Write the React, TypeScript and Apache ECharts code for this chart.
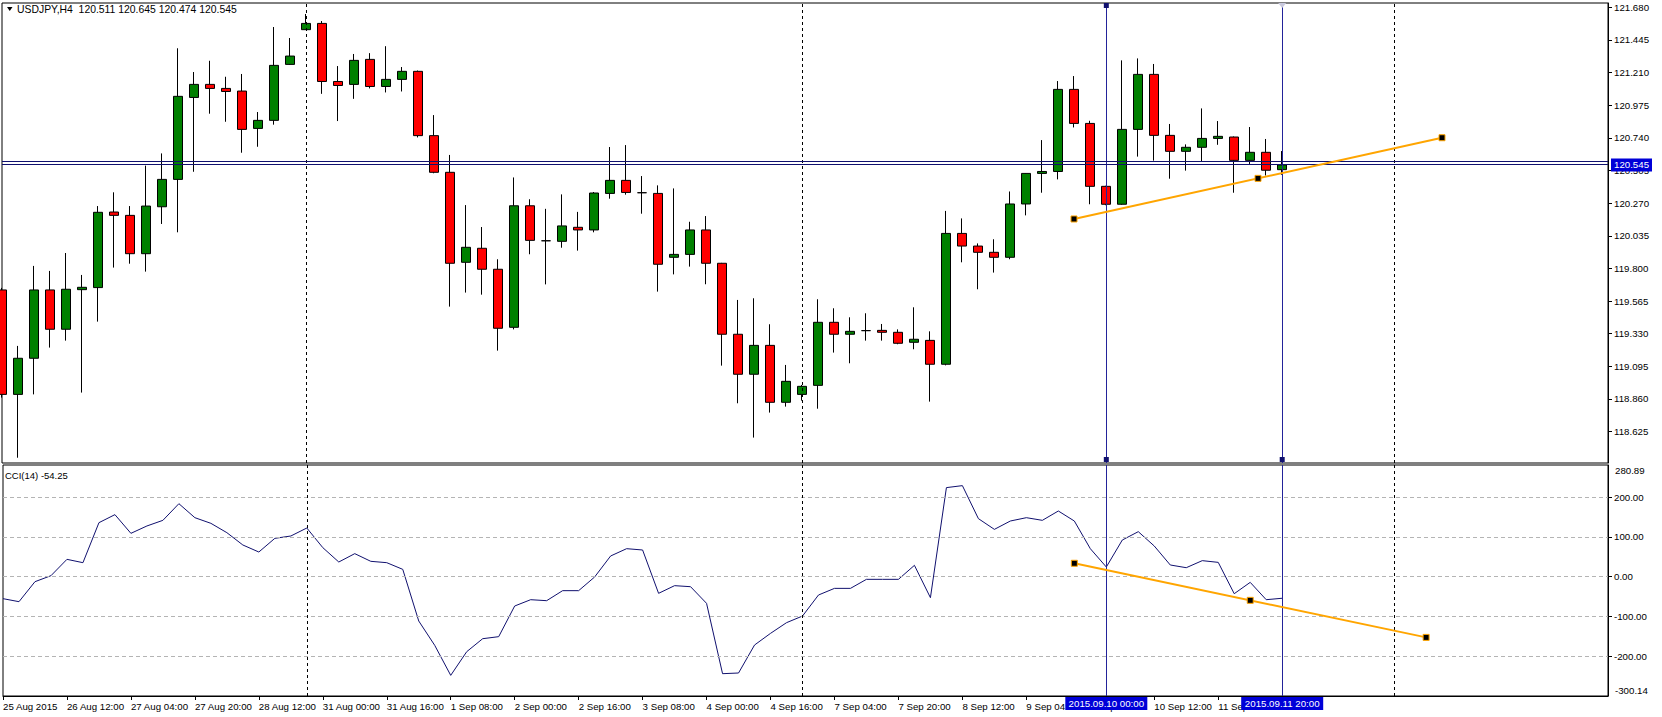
import React, { useEffect, useRef } from 'react';
import * as echarts from 'echarts';

const SYMBOL = 'USDJPY,H4';
const CCI_NAME = 'CCI(14)';

// bar time labels, one every 4 bars (H4)
const timeLabels = [
  '25 Aug 2015', '26 Aug 12:00', '27 Aug 04:00', '27 Aug 20:00', '28 Aug 12:00',
  '31 Aug 00:00', '31 Aug 16:00', '1 Sep 08:00', '2 Sep 00:00', '2 Sep 16:00',
  '3 Sep 08:00', '4 Sep 00:00', '4 Sep 16:00', '7 Sep 04:00', '7 Sep 20:00',
  '8 Sep 12:00', '9 Sep 04:00', '9 Sep 20:00', '10 Sep 12:00', '11 Sep 04:00', '11 Sep 20:00',
];

const opens = [
  119.645, 118.893, 119.153, 119.645, 119.362, 119.647, 119.662, 120.206, 120.182, 119.906,
  120.244, 120.441, 121.031, 121.125, 121.096, 121.077, 120.808, 120.866, 121.269, 121.519,
  121.564, 121.146, 121.125, 121.305, 121.110, 121.161, 121.219, 120.756, 120.492, 119.844,
  119.945, 119.794, 119.376, 120.251, 119.999, 119.995, 120.096, 120.077, 120.340, 120.434,
  120.345, 120.340, 119.880, 119.901, 120.077, 119.837, 119.326, 119.038, 119.246, 118.836,
  118.893, 118.958, 119.412, 119.326, 119.352, 119.354, 119.340, 119.268, 119.282, 119.110,
  120.052, 119.961, 119.916, 119.880, 120.264, 120.484, 120.498, 121.089, 120.844, 120.391,
  120.262, 120.801, 121.197, 120.758, 120.643, 120.672, 120.736, 120.746, 120.578, 120.636,
  120.511,
];
const closes = [
  118.893, 119.153, 119.645, 119.362, 119.650, 119.664, 120.204, 120.182, 119.906, 120.249,
  120.441, 121.039, 121.125, 121.096, 121.074, 120.801, 120.866, 121.262, 121.329, 121.564,
  121.146, 121.117, 121.298, 121.110, 121.161, 121.219, 120.756, 120.492, 119.837, 119.952,
  119.794, 119.369, 120.251, 120.002, 119.999, 120.106, 120.077, 120.343, 120.434, 120.347,
  120.345, 119.830, 119.901, 120.077, 119.837, 119.326, 119.038, 119.246, 118.836, 118.987,
  118.951, 119.412, 119.326, 119.347, 119.352, 119.340, 119.261, 119.290, 119.110, 120.052,
  119.961, 119.916, 119.880, 120.264, 120.484, 120.498, 121.089, 120.844, 120.391, 120.262,
  120.801, 121.197, 120.758, 120.643, 120.672, 120.736, 120.751, 120.578, 120.636, 120.507,
  120.545,
];
const lows = [
  118.870, 118.437, 118.893, 119.230, 119.280, 118.906, 119.417, 119.806, 119.834, 119.777,
  120.120, 120.060, 120.496, 120.914, 120.856, 120.633, 120.676, 120.835, 121.266, 121.519,
  121.057, 120.861, 121.021, 121.096, 121.067, 121.074, 120.743, 120.485, 119.525, 119.626,
  119.611, 119.208, 119.361, 119.902, 119.685, 119.949, 119.928, 120.060, 120.302, 120.331,
  120.194, 119.633, 119.757, 119.813, 119.686, 119.100, 118.829, 118.582, 118.762, 118.805,
  118.848, 118.790, 119.194, 119.117, 119.280, 119.280, 119.254, 119.218, 118.841, 119.102,
  119.844, 119.650, 119.770, 119.866, 120.182, 120.345, 120.441, 120.815, 120.262, 120.255,
  120.258, 120.605, 120.576, 120.446, 120.504, 120.569, 120.690, 120.345, 120.552, 120.469,
  120.474,
];
const highs = [
  119.660, 119.242, 119.818, 119.782, 119.911, 119.753, 120.249, 120.348, 120.249, 120.540,
  120.628, 121.385, 121.214, 121.295, 121.180, 121.200, 120.926, 121.538, 121.459, 121.632,
  121.581, 121.257, 121.344, 121.350, 121.400, 121.250, 121.225, 120.904, 120.617, 120.256,
  120.098, 119.866, 120.455, 120.298, 120.229, 120.333, 120.207, 120.350, 120.674, 120.688,
  120.465, 120.398, 120.376, 120.136, 120.177, 119.840, 119.573, 119.585, 119.398, 119.105,
  118.961, 119.578, 119.513, 119.448, 119.477, 119.400, 119.361, 119.520, 119.347, 120.214,
  120.160, 119.980, 120.010, 120.354, 120.486, 120.724, 121.149, 121.185, 120.863, 120.395,
  121.298, 121.312, 121.272, 120.840, 120.693, 120.952, 120.861, 120.750, 120.818, 120.732,
  120.645,
];

const cciValues = [
  -55.3, -62.9, -12.6, 2.5, 43.6, 35.2, 135.8, 156, 109, 127.5,
  141.7, 183.6, 148.4, 134.2, 110.7, 79.7, 62, 96.4, 102.3, 122.4,
  73, 36.9, 57.9, 38.6, 35.2, 18.4, -111.5, -172.7, -248.2, -188.7,
  -156, -150.9, -73.8, -57.9, -60.4, -35.2, -35.2, -0.8, 52, 70.4,
  67.1, -41.9, -22.6, -25.2, -67.1, -244, -242.3, -171.9, -142.6, -115.7,
  -99, -46.1, -29.4, -29.4, -6.7, -6.7, -6.7, 28.5, -52.8, 224,
  229, 146, 119, 140, 148.4, 141.7, 165.2, 140, 70.4, 24.3,
  92.2, 113.2, 77.1, 29.4, 22.6, 40.3, 36, -42.8, -14.3, -57.9,
  -54.25,
];

const priceTicks = [118.625, 118.86, 119.095, 119.33, 119.565, 119.8, 120.035, 120.27, 120.505, 120.74, 120.975, 121.21, 121.445, 121.68];
const priceRange = [118.399, 121.711];
const cciTicks = [-200, -100, 0, 100, 200];
const cciRange = [-300.14, 280.89];
const xRange = [0, 100.375];
const bidAskLines = [120.545, 120.567];
const weekSeparators = [19, 50, 87];
const verticalLines = [69, 80];
const verticalLineLabels = ['2015.09.10 00:00', '2015.09.11 20:00'];
const priceTrend = [[67, 120.156], [90, 120.741]];
const cciTrend = [[67, 33.7], [89, -152.7]];

const FONT = '"Liberation Sans", Arial, sans-serif';
const BLUE_LINE = '#23239a';
const NAVY = '#10106e';
const ORANGE = '#FFA500';
const BOX_BLUE = '#0000d8';
const AXIS_FS = 9.7;

const midpoint = (t: number[][]) => [(t[0][0] + t[1][0]) / 2, (t[0][1] + t[1][1]) / 2];

export default function App() {
  const ref = useRef<HTMLDivElement>(null);

  useEffect(() => {
    if (!ref.current) return;
    const chart = echarts.init(ref.current, undefined, { renderer: 'svg' });

    const candleRows = opens.map((o, i) => [i, o, closes[i], lows[i], highs[i]]);
    const cciRows = cciValues.map((v, i) => [i, v]);
    const tickIdx = timeLabels.map((_, k) => k * 4);
    const labelFor = (v: number) => {
      const k = Math.round(v / 4);
      if (Math.abs(v - k * 4) > 1e-6) return '';
      return timeLabels[k] ?? '';
    };

    const sepLine = (x: number) => ({
      xAxis: x,
      lineStyle: { color: '#000', type: [3, 3], width: 1 },
    });
    const vLine = (x: number) => ({
      xAxis: x,
      lineStyle: { color: BLUE_LINE, type: 'solid', width: 1 },
    });

    const option: any = {
      animation: false,
      backgroundColor: '#ffffff',
      textStyle: { fontFamily: FONT },
      grid: [
        { left: 2, top: 3, width: 1606, height: 460, show: true, borderColor: '#000', borderWidth: 1 },
        { left: 2, top: 465, width: 1606, height: 231, show: true, borderColor: '#000', borderWidth: 1 },
      ],
      xAxis: [
        { type: 'value', gridIndex: 0, min: xRange[0], max: xRange[1], show: false, axisLine: { onZero: false } },
        {
          type: 'value', gridIndex: 1, min: xRange[0], max: xRange[1], interval: 4, position: 'bottom',
          axisLine: { show: true, onZero: false, lineStyle: { color: '#000', width: 1 } },
          axisTick: { show: true, length: 4, customValues: tickIdx, lineStyle: { color: '#000' } },
          axisLabel: {
            customValues: tickIdx, formatter: (v: number) => labelFor(v), align: 'left',
            margin: 5, fontSize: AXIS_FS, color: '#000', fontFamily: FONT, showMaxLabel: false,
          },
          splitLine: { show: false },
        },
      ],
      yAxis: [
        {
          type: 'value', gridIndex: 0, position: 'right', min: priceRange[0], max: priceRange[1],
          axisLine: { show: true, onZero: false, lineStyle: { color: '#000' } },
          axisTick: { show: true, length: 4, customValues: priceTicks, lineStyle: { color: '#000' } },
          axisLabel: {
            customValues: priceTicks, formatter: (v: number) => v.toFixed(3),
            margin: 6, fontSize: AXIS_FS, color: '#000', fontFamily: FONT,
          },
          splitLine: { show: false },
        },
        {
          type: 'value', gridIndex: 1, position: 'right', min: cciRange[0], max: cciRange[1],
          axisLine: { show: true, onZero: false, lineStyle: { color: '#000' } },
          axisTick: { show: true, length: 4, customValues: cciTicks, lineStyle: { color: '#000' } },
          axisLabel: {
            customValues: cciTicks, formatter: (v: number) => v.toFixed(2),
            margin: 6, fontSize: AXIS_FS, color: '#000', fontFamily: FONT,
          },
          splitLine: { show: false },
        },
      ],
      series: [
        {
          type: 'candlestick',
          name: SYMBOL,
          xAxisIndex: 0,
          yAxisIndex: 0,
          data: candleRows,
          barWidth: 9,
          clip: true,
          itemStyle: {
            color: '#008000', color0: '#ff0000',
            borderColor: '#000', borderColor0: '#000', borderColorDoji: '#000', borderWidth: 1,
          },
          markLine: {
            silent: true, symbol: ['none', 'none'], label: { show: false },
            data: [
              ...weekSeparators.map(sepLine),
              ...verticalLines.map(vLine),
              ...bidAskLines.map((y) => ({ yAxis: y, lineStyle: { color: NAVY, type: 'solid', width: 1 } })),
            ],
          },
        },
        {
          type: 'line', xAxisIndex: 0, yAxisIndex: 0, data: priceTrend, symbol: 'none',
          lineStyle: { color: ORANGE, width: 2 }, z: 5, silent: true,
        },
        {
          type: 'scatter', xAxisIndex: 0, yAxisIndex: 0,
          data: [priceTrend[0], midpoint(priceTrend), priceTrend[1]],
          symbol: 'rect', symbolSize: 6,
          itemStyle: { color: '#000', borderColor: ORANGE, borderWidth: 1, opacity: 1 }, z: 6, silent: true,
        },
        {
          type: 'line', name: CCI_NAME, xAxisIndex: 1, yAxisIndex: 1, data: cciRows, symbol: 'none',
          lineStyle: { color: NAVY, width: 1 }, z: 3, silent: true,
          markLine: {
            silent: true, symbol: ['none', 'none'], label: { show: false },
            data: [
              ...cciTicks.map((y) => ({ yAxis: y, lineStyle: { color: '#b4b4b4', type: [4, 3], width: 1 } })),
              ...weekSeparators.map(sepLine),
              ...verticalLines.map(vLine),
            ],
          },
        },
        {
          type: 'line', xAxisIndex: 1, yAxisIndex: 1, data: cciTrend, symbol: 'none',
          lineStyle: { color: ORANGE, width: 2 }, z: 5, silent: true,
        },
        {
          type: 'scatter', xAxisIndex: 1, yAxisIndex: 1,
          data: [cciTrend[0], midpoint(cciTrend), cciTrend[1]],
          symbol: 'rect', symbolSize: 6,
          itemStyle: { color: '#000', borderColor: ORANGE, borderWidth: 1, opacity: 1 }, z: 6, silent: true,
        },
      ],
    };

    chart.setOption(option);

    const px = (g: number, x: number, y: number) => chart.convertToPixel({ gridIndex: g } as any, [x, y]) as number[];
    const last = opens.length - 1;
    const title = `${SYMBOL}  ${opens[last].toFixed(3)} ${highs[last].toFixed(3)} ${lows[last].toFixed(3)} ${closes[last].toFixed(3)}`;
    const cciTitle = `${CCI_NAME} ${cciValues[last].toFixed(2)}`;

    const topMain = px(0, 0, priceRange[1])[1];
    const botMain = px(0, 0, priceRange[0])[1];
    const rightEdge = px(0, xRange[1], priceRange[0])[0];
    const bidY = px(0, 0, bidAskLines[0])[1];
    const cciTop = px(1, 0, cciRange[1])[1];
    const cciBot = px(1, 0, cciRange[0])[1];

    const elements: any[] = [
      { type: 'polygon', z: 100, shape: { points: [[7, 7], [12.5, 7], [9.75, 11]] }, style: { fill: '#000' } },
      { type: 'text', z: 100, x: 17, y: 9.5, style: { text: title, fill: '#000', font: `10.4px ${FONT}`, verticalAlign: 'middle' } },
      { type: 'text', z: 100, x: 5, y: cciTop + 10, style: { text: cciTitle, fill: '#000', font: `9.5px ${FONT}`, verticalAlign: 'middle' } },
      { type: 'rect', z: 100, shape: { x: rightEdge + 3, y: bidY - 6.5, width: 41, height: 13 }, style: { fill: BOX_BLUE } },
      { type: 'text', z: 101, x: rightEdge + 6, y: bidY, style: { text: bidAskLines[0].toFixed(3), fill: '#fff', font: `${AXIS_FS}px ${FONT}`, verticalAlign: 'middle' } },
      { type: 'text', z: 100, x: rightEdge + 7, y: cciTop + 5, style: { text: cciRange[1].toFixed(2), fill: '#000', font: `${AXIS_FS}px ${FONT}`, verticalAlign: 'middle' } },
      { type: 'text', z: 100, x: rightEdge + 7, y: cciBot - 6, style: { text: cciRange[0].toFixed(2), fill: '#000', font: `${AXIS_FS}px ${FONT}`, verticalAlign: 'middle' } },
    ];

    verticalLines.forEach((v, k) => {
      const x = px(1, v, 0)[0];
      elements.push({ type: 'rect', z: 100, shape: { x: x - 41, y: cciBot + 1, width: 82, height: 13 }, style: { fill: BOX_BLUE } });
      elements.push({ type: 'text', z: 101, x, y: cciBot + 7.5, style: { text: verticalLineLabels[k], fill: '#fff', font: `${AXIS_FS}px ${FONT}`, align: 'center', verticalAlign: 'middle' } });
      elements.push({ type: 'rect', z: 100, shape: { x: x - 2.5, y: botMain - 6, width: 5, height: 5 }, style: { fill: NAVY } });
      elements.push(
        k === 0
          ? { type: 'rect', z: 100, shape: { x: x - 2.5, y: topMain, width: 5, height: 5 }, style: { fill: NAVY } }
          : { type: 'polygon', z: 100, shape: { points: [[x - 4, topMain], [x + 4, topMain], [x, topMain + 5]] }, style: { fill: '#c8c8dc' } },
      );
    });

    chart.setOption({ graphic: { elements } });

    return () => chart.dispose();
  }, []);

  return (
    <div
      ref={ref}
      style={{ position: 'absolute', left: 0, top: 0, width: 1662, height: 717, background: '#fff' }}
    />
  );
}
